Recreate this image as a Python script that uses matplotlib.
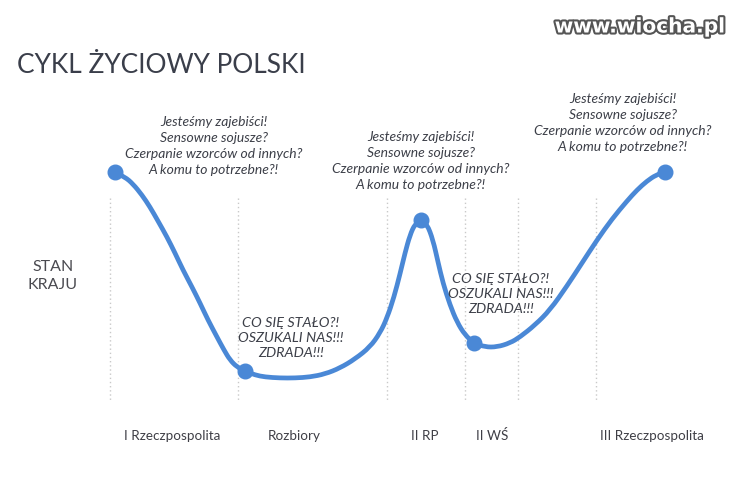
import matplotlib
matplotlib.use("Agg")
import matplotlib.pyplot as plt
import matplotlib.patheffects as pe
from matplotlib.path import Path
from matplotlib.patches import PathPatch

# ---- data (chart coordinates: x = time axis, y = screen depth; smaller y = better state) ----
curve_x = [115, 125, 133, 142, 150, 158, 167, 175, 183, 192, 200, 208, 217, 224, 230, 237, 245,
           255, 265, 280, 295, 310, 325, 340, 355, 370, 380, 387, 394, 400, 405, 410, 415, 421,
           427, 433, 438, 443, 450, 457, 465, 474, 485, 497, 510, 520, 535, 550, 567, 582, 597,
           612, 627, 637, 647, 656, 665]
curve_y = [172, 177, 184, 195, 207, 221, 237, 253, 270, 287, 303, 320, 337, 350, 360, 367, 371,
           375, 377, 378, 378, 377, 374, 368, 359, 347, 333, 318, 297, 274, 253, 235, 224, 220,
           224, 240, 262, 283, 305, 322, 335, 343, 347, 347, 343, 337, 325, 310, 286, 263, 240,
           219, 201, 190, 181, 175, 172]
point_x = [115, 245, 421, 474, 665]
point_y = [172, 371, 220, 343, 172]

divider_x = [110, 238, 387, 465, 518, 596]

era_labels = ["I Rzeczpospolita", "Rozbiory", "II RP", "II WŚ", "III Rzeczpospolita"]
era_x = [172, 294, 425, 492, 652]

good_text = "Jesteśmy zajebiści!\nSensowne sojusze?\nCzerpanie wzorców od innych?\nA komu to potrzebne?!"
bad_text = "CO SIĘ STAŁO?!\nOSZUKALI NAS!!!\nZDRADA!!!"
good_pos = [(214, 146), (421, 161), (623, 123)]
bad_pos = [(291, 338), (501, 294)]

# ---- figure ----
fig = plt.figure(figsize=(7.40, 4.91), dpi=100)
ax = fig.add_axes([0, 0, 1, 1])
ax.set_xlim(0, 740)
ax.set_ylim(491, 0)
ax.axis("off")

blue = "#4a88d6"
txt = "#3c3f48"

for xv in divider_x:
    ax.plot([xv, xv], [198, 401], color="#c9c9c9", lw=1.0, ls=(0, (1, 2)), zorder=1)

# smooth curve: quadratic B-spline through the read points (matplotlib Path)
pts = list(zip(curve_x, curve_y))
verts = [pts[0]]
codes = [Path.MOVETO]
for i in range(1, len(pts) - 1):
    mid = ((pts[i][0] + pts[i + 1][0]) / 2, (pts[i][1] + pts[i + 1][1]) / 2)
    verts += [pts[i], mid]
    codes += [Path.CURVE3, Path.CURVE3]
verts.append(pts[-1])
codes.append(Path.LINETO)
ax.add_patch(PathPatch(Path(verts, codes), facecolor="none", edgecolor=blue, lw=3.4,
                       capstyle="round", joinstyle="round", zorder=3))
ax.plot(point_x, point_y, "o", color=blue, ms=10.5, zorder=4)

ax.text(17, 65, "CYKL ŻYCIOWY POLSKI", fontsize=18.9, family=["Lato", "DejaVu Sans"],
        color="#3a3e4a", ha="left", va="center")

ax.text(640, 27, "www.wiocha.pl", fontsize=14.5, fontweight="bold", family=["DejaVu Sans"],
        color="white", ha="center", va="center",
        path_effects=[pe.withStroke(linewidth=3, foreground="#555555")])

ax.text(53, 276, "STAN\nKRAJU", fontsize=11.5, family=["Lato", "DejaVu Sans"], color="#4a4a50",
        ha="center", va="center", linespacing=1.3)

for (gx, gy) in good_pos:
    ax.text(gx, gy, good_text, fontsize=10.0, style="italic", family=["Lato", "DejaVu Sans"],
            color=txt, ha="center", va="center", linespacing=1.4)
for (bx, by) in bad_pos:
    ax.text(bx, by, bad_text, fontsize=10.4, style="italic", family=["Lato", "DejaVu Sans"],
            color=txt, ha="center", va="center", linespacing=1.3)

for lab, xv in zip(era_labels, era_x):
    ax.text(xv, 436, lab, fontsize=9.7, family=["Lato", "DejaVu Sans"], color="#3f3f46",
            ha="center", va="center")

fig.savefig("out.png", dpi=100, facecolor="white")
